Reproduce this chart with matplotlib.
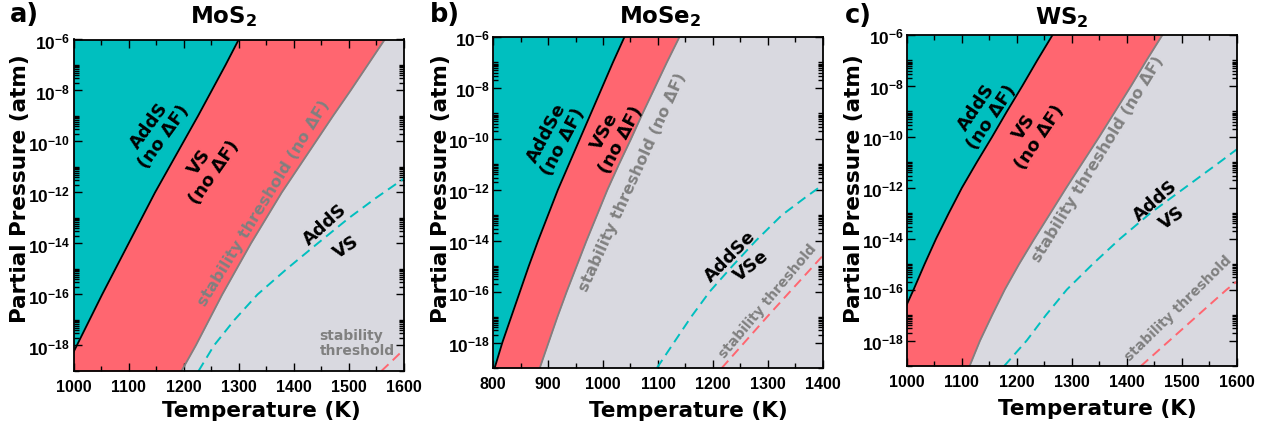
import numpy as np
import matplotlib
matplotlib.use("Agg")
import matplotlib.pyplot as plt
from matplotlib.ticker import LogLocator, MultipleLocator, FuncFormatter, NullFormatter

plt.rcParams["font.family"] = ["Liberation Sans"]
plt.rcParams["font.weight"] = "bold"
plt.rcParams["mathtext.default"] = "regular"

# pressure grid (log10 atm) for the two solid boundaries
logp_grid = [-19, -18, -17, -16, -15, -14, -13, -12, -11, -10, -9, -8, -7, -6]

# MoS2 (a)
mos2_addS_T = [983, 1006, 1029, 1052, 1076, 1100, 1124, 1148, 1174, 1200, 1226, 1251, 1276, 1300]
mos2_thresh_T = [1196, 1222, 1246, 1270, 1296, 1322, 1350, 1378, 1409, 1440, 1471, 1503, 1534, 1565]
mos2_dash_add_logp = [-19, -18, -17, -16, -15, -14, -13, -12.2, -11.45]
mos2_dash_add_T = [1227, 1255, 1292, 1334, 1387, 1443, 1500, 1550, 1600]
mos2_dash_thr_logp = [-19, -18.57, -18.15]
mos2_dash_thr_T = [1559, 1580, 1600]

# MoSe2 (b)
mose2_addS_T = [803, 817, 833, 849, 865, 882, 900, 918, 938, 958, 978, 998, 1018, 1039]
mose2_thresh_T = [885, 901, 917, 934, 952, 970, 989, 1008, 1029, 1051, 1072, 1094, 1116, 1139]
mose2_dash_add_logp = [-19, -18, -17, -16, -15, -14, -13, -12.3, -11.8]
mose2_dash_add_T = [1098, 1129, 1160, 1194, 1235, 1278, 1325, 1368, 1400]
mose2_dash_thr_logp = [-19, -18, -17, -16, -14.58]
mose2_dash_thr_T = [1216, 1257, 1298, 1340, 1400]

# WS2 (c)
ws2_addS_T = [950, 970, 991, 1012, 1032, 1053, 1076, 1100, 1127, 1155, 1182, 1210, 1237, 1265]
ws2_thresh_T = [1114, 1133, 1155, 1178, 1204, 1232, 1261, 1290, 1320, 1350, 1379, 1408, 1436, 1465]
ws2_dash_add_logp = [-19, -18, -17, -16, -15, -14, -13, -12.38, -11, -10.5]
ws2_dash_add_T = [1177, 1218, 1253, 1291, 1338, 1388, 1443, 1482, 1569, 1600]
ws2_dash_thr_logp = [-19, -18, -17, -16, -15.69]
ws2_dash_thr_T = [1426, 1478, 1530, 1582, 1600]

TEAL = "#00bfbf"
RED = "#ff6670"
BG = "#d9d9e0"
GRAY = "#808080"

W, H = 1271, 427
fig = plt.figure(figsize=(W / 100, H / 100), dpi=100)


def px_rect(left, top, right, bottom):
    return [left / W, 1 - bottom / H, (right - left) / W, (bottom - top) / H]


def fxy(x, y):
    return x / W, 1 - y / H


def sci_label(v, pos):
    return "10$^{%d}$" % int(round(np.log10(v)))


def draw_panel(ax, xlim, addS_T, thresh_T, dadd_T, dadd_lp, dthr_T, dthr_lp):
    P = 10.0 ** np.asarray(logp_grid, dtype=float)
    ax.set_facecolor(BG)
    ax.fill_betweenx(P, xlim[0], addS_T, color=TEAL, lw=0)
    ax.fill_betweenx(P, addS_T, thresh_T, color=RED, lw=0)
    ax.plot(addS_T, P, color="black", lw=1.3)
    ax.plot(thresh_T, P, color=GRAY, lw=1.3)
    ax.plot(dadd_T, 10.0 ** np.asarray(dadd_lp), color=TEAL, lw=1.4, ls=(0, (5, 3)))
    ax.plot(dthr_T, 10.0 ** np.asarray(dthr_lp), color=RED, lw=1.4, ls=(0, (5, 3)))

    ax.set_yscale("log")
    ax.set_xlim(*xlim)
    ax.set_ylim(1e-19, 1e-6)
    ax.xaxis.set_major_locator(MultipleLocator(100))
    ax.xaxis.set_minor_locator(MultipleLocator(50))
    ax.yaxis.set_major_locator(LogLocator(base=100, numticks=20))
    ax.yaxis.set_minor_locator(LogLocator(base=100, subs=np.arange(2, 11), numticks=20))
    ax.yaxis.set_major_formatter(FuncFormatter(sci_label))
    ax.yaxis.set_minor_formatter(NullFormatter())
    ax.tick_params(which="both", direction="in", top=True, right=True, width=1)
    ax.tick_params(which="major", length=6)
    ax.tick_params(which="minor", length=3.5)
    ax.tick_params(axis="x", which="major", labelsize=11.5, pad=5.5)
    ax.tick_params(axis="y", which="major", labelsize=12.5, pad=2.5)
    for s in ax.spines.values():
        s.set_linewidth(1.3)


def label(ax, x, lp, text, rot, color="black", size=13, **kw):
    ax.text(x, 10.0 ** lp, text, rotation=rot, rotation_mode="anchor",
            ha=kw.pop("ha", "center"), va="center", color=color, fontsize=size,
            family="DejaVu Sans", weight="bold", multialignment=kw.pop("ma", "center"),
            linespacing=1.05, **kw)


ax_a = fig.add_axes(px_rect(73.5, 40.5, 404, 372))
ax_b = fig.add_axes(px_rect(493, 38, 823, 369))
ax_c = fig.add_axes(px_rect(907, 36, 1236.5, 367))

draw_panel(ax_a, (1000, 1600), mos2_addS_T, mos2_thresh_T,
           mos2_dash_add_T, mos2_dash_add_logp, mos2_dash_thr_T, mos2_dash_thr_logp)
draw_panel(ax_b, (800, 1400), mose2_addS_T, mose2_thresh_T,
           mose2_dash_add_T, mose2_dash_add_logp, mose2_dash_thr_T, mose2_dash_thr_logp)
draw_panel(ax_c, (1000, 1600), ws2_addS_T, ws2_thresh_T,
           ws2_dash_add_T, ws2_dash_add_logp, ws2_dash_thr_T, ws2_dash_thr_logp)

# panel a annotations
label(ax_a, 1151, -9.56, "AddS\n(no ΔF)", 54)
label(ax_a, 1242, -10.99, "VS\n(no ΔF)", 55)
label(ax_a, 1346, -12.39, "stability threshold (no ΔF)", 58.5, color=GRAY, size=11.5)
label(ax_a, 1457, -13.23, "AddS", 42)
label(ax_a, 1495, -14.11, "VS", 34)
label(ax_a, 1447, -17.89, "stability\nthreshold", 0, color=GRAY, size=10, ha="left", ma="left")

# panel b annotations
label(ax_b, 912, -9.91, "AddSe\n(no ΔF)", 62)
label(ax_b, 1018, -9.84, "VSe\n(no ΔF)", 62)
label(ax_b, 1054, -11.69, "stability threshold (no ΔF)", 65.5, color=GRAY, size=11.5)
label(ax_b, 1232, -14.58, "AddSe", 45)
label(ax_b, 1270, -14.97, "VSe", 38)
label(ax_b, 1299, -16.36, "stability threshold", 50, color=GRAY, size=10)

# panel c annotations
label(ax_c, 1140, -9.0, "AddS\n(no ΔF)", 56)
label(ax_c, 1228, -9.78, "VS\n(no ΔF)", 56)
label(ax_c, 1348, -10.86, "stability threshold (no ΔF)", 58.5, color=GRAY, size=11.5)
label(ax_c, 1452, -12.48, "AddS", 41)
label(ax_c, 1483, -13.16, "VS", 35)
label(ax_c, 1495, -16.7, "stability threshold", 44.5, color=GRAY, size=10)

# titles, panel letters, axis labels
txt = dict(family="DejaVu Sans", weight="bold")
for title, cx, by in [("MoS$_2$", 223, 23.3), ("MoSe$_2$", 660, 23.3), ("WS$_2$", 1062, 24.5)]:
    fig.text(*fxy(cx, by), title, ha="center", va="baseline", fontsize=16.5, **txt)
for letter, lx, by in [("a)", 10, 22), ("b)", 430, 22), ("c)", 845, 23)]:
    fig.text(*fxy(lx, by), letter, ha="left", va="baseline", fontsize=18.5, **txt)
for cx, by in [(261.7, 416.7), (688, 416.7), (1097, 415)]:
    fig.text(*fxy(cx, by), "Temperature (K)", ha="center", va="baseline", fontsize=15.5, **txt)
for cx in [20, 441.5, 854]:
    fig.text(*fxy(cx, 189), "Partial Pressure (atm)", ha="center", va="center",
             rotation=90, fontsize=15.5, **txt)

fig.savefig("out.png", dpi=100)
